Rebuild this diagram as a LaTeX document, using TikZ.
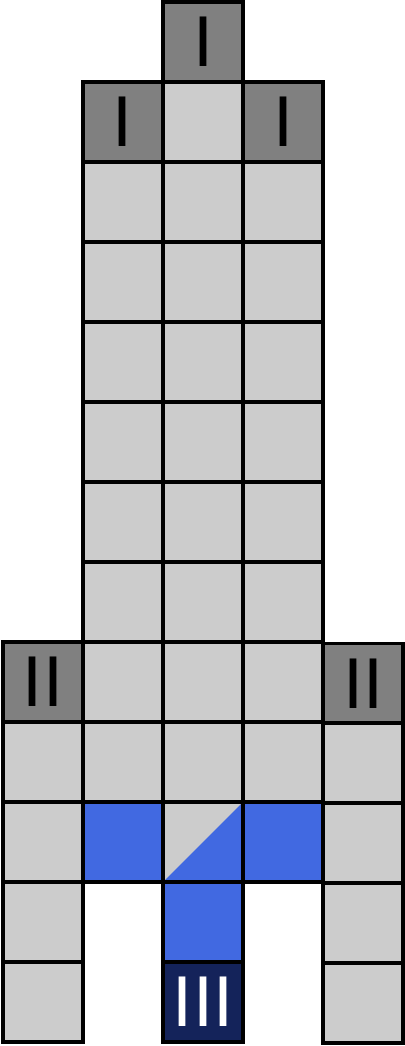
\documentclass[tikz,border=0pt]{standalone}
\usepackage{fontspec}
\setmainfont{Liberation Sans}
\definecolor{dk}{HTML}{808080}
\definecolor{lt}{HTML}{CCCCCC}
\definecolor{bl}{HTML}{4169E1}
\definecolor{nv}{HTML}{14235A}
\begin{document}
\begin{tikzpicture}[x=1pt,y=-1pt,
  cell/.style={draw=black,line width=3.5pt,minimum size=80pt,inner sep=0pt,outer sep=0pt,fill=lt,font=\fontsize{72}{72}\selectfont},
  dcell/.style={cell,fill=dk},
  bcell/.style={cell,fill=bl},
  ncell/.style={cell,fill=nv,text=white}]
\useasboundingbox (0,0) rectangle (404,1046);
% centre column
\node[dcell] (c2-0) at (203,42) {I};
\foreach \k in {1,...,9} \node[cell] (c2-\k) at (203,42+80*\k) {};
\node[cell] (c2-10) at (203,842) {};
\fill[bl] (c2-10.south west) -- (c2-10.south east) -- (c2-10.north east) -- cycle;
\draw[line width=3.5pt] (c2-10.south west) rectangle (c2-10.north east);
\node[bcell] (c2-11) at (203,922) {};
\node[ncell] (c2-12) at (203,1002) {III};
% inner side columns
\foreach \c/\x in {1/123,3/283}{
  \node[dcell] (c\c-1) at (\x,122) {I};
  \foreach \k in {2,...,9} \node[cell] (c\c-\k) at (\x,42+80*\k) {};
  \node[bcell] (c\c-10) at (\x,842) {};
}
% outer columns
\node[dcell] (c0-8) at (43,682) {II};
\foreach \k in {9,...,12} \node[cell] (c0-\k) at (43,42+80*\k) {};
\node[dcell] (c4-8) at (363,683.5) {II};
\foreach \k in {9,...,12} \node[cell] (c4-\k) at (363,43+80*\k) {};
\end{tikzpicture}
\end{document}
